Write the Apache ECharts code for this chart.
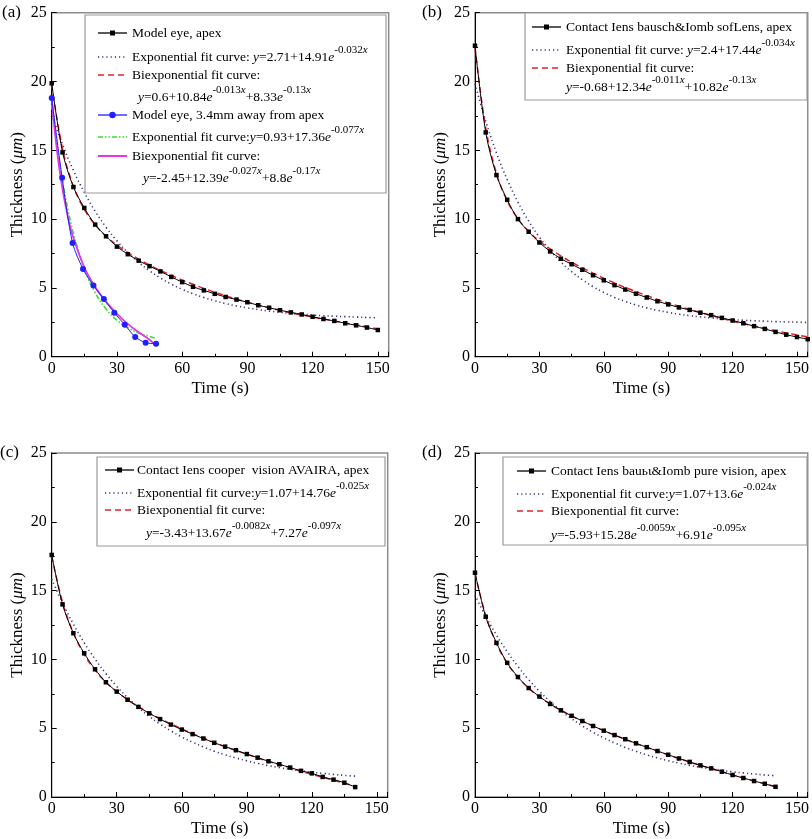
<!DOCTYPE html>
<html><head><meta charset="utf-8">
<script src="https://cdn.jsdelivr.net/npm/echarts@6/dist/echarts.min.js"></script>
<style>html,body{margin:0;padding:0;background:#fff}#c{width:812px;height:839px}</style>
</head><body><div id="c"></div>
<script>
// ---------- DATA ----------
const timeA = [0,5,10,15,20,25,30,35,40,45,50,55,60,65,70,75,80,85,90,95,100,105,110,115,120,125,130,135,140,145,150];
const apexA = [19.87,14.85,12.33,10.81,9.6,8.75,8.0,7.45,6.98,6.58,6.2,5.8,5.42,5.08,4.82,4.57,4.34,4.15,3.96,3.74,3.56,3.38,3.22,3.07,2.9,2.74,2.6,2.43,2.28,2.12,1.94];
const expA = [17.62,15.41,13.54,11.94,10.57,9.41,8.42,7.58,6.86,6.24,5.72,5.27,4.90,4.57,4.30,4.06,3.86,3.69,3.55,3.42,3.32,3.23,3.15,3.09,3.03,2.98,2.94,2.91,2.88,2.85,2.83];
const biexpA = [19.77,15.11,12.39,10.70,9.58,8.76,8.11,7.57,7.09,6.66,6.27,5.91,5.57,5.26,4.96,4.69,4.43,4.19,3.96,3.75,3.55,3.37,3.19,3.03,2.88,2.73,2.60,2.45,2.32,2.18,2.02];

const timeAway = [0,4.8,9.6,14.4,19.2,24,28.8,33.6,38.4,43.2,48];
const awayA = [18.8,13.0,8.27,6.38,5.17,4.2,3.19,2.33,1.44,1.02,0.94];
const fitTimeAway = [0,2.5,5,7.5,10,15,20,25,30,35,40,45,48];
const expAway = [18.29,15.25,12.74,10.67,8.97,6.40,4.65,3.46,2.65,2.10,1.73,1.47,1.34];
const biexpAway = [18.74,14.88,12.14,10.13,8.62,6.50,5.06,3.98,3.12,2.39,1.77,1.23,0.8];

const timeB = [0,5,10,15,20,25,30,35,40,45,50,55,60,65,70,75,80,85,90,95,100,105,110,115,120,125,130,135,140,145,150,155];
const apexB = [22.6,16.3,13.2,11.4,10.0,9.08,8.3,7.65,7.12,6.72,6.32,5.92,5.55,5.2,4.88,4.58,4.3,4.03,3.8,3.58,3.4,3.2,3.02,2.82,2.63,2.43,2.22,2.02,1.8,1.6,1.43,1.27];
const expB = [19.84,17.11,14.81,12.87,11.24,9.85,8.69,7.71,6.88,6.18,5.59,5.09,4.67,4.31,4.01,3.76,3.55,3.37,3.22,3.09,2.98,2.89,2.82,2.75,2.69,2.65,2.61,2.58,2.55,2.53,2.51,2.49];
const biexpB = [22.48,16.65,13.32,11.32,10.03,9.11,8.41,7.83,7.33,6.87,6.46,6.07,5.70,5.36,5.03,4.73,4.44,4.16,3.91,3.66,3.43,3.21,3.00,2.78,2.58,2.40,2.22,2.05,1.88,1.72,1.58,1.44];

const timeC = [0,5,10,15,20,25,30,35,40,45,50,55,60,65,70,75,80,85,90,95,100,105,110,115,120,125,130,135,140];
const apexC = [17.59,14.0,11.9,10.44,9.28,8.34,7.66,7.07,6.55,6.08,5.66,5.26,4.9,4.57,4.25,3.94,3.66,3.4,3.12,2.86,2.6,2.38,2.14,1.9,1.72,1.46,1.26,1.04,0.72];
const expC = [15.83,14.10,12.57,11.21,10.02,8.97,8.04,7.22,6.50,5.86,5.30,4.80,4.36,3.98,3.64,3.33,3.07,2.83,2.63,2.44,2.28,2.14,2.01,1.90,1.80,1.72,1.64,1.57,1.52];
const biexpC = [17.51,14.17,11.92,10.36,9.22,8.35,7.66,7.07,6.57,6.11,5.70,5.31,4.95,4.61,4.28,3.96,3.66,3.38,3.11,2.84,2.59,2.35,2.12,1.87,1.65,1.43,1.22,1.0,0.76];

const timeD = [0,5,10,15,20,25,30,35,40,45,50,55,60,65,70,75,80,85,90,95,100,105,110,115,120,125,130,135,140];
const apexD = [16.3,13.1,11.2,9.75,8.72,7.92,7.3,6.76,6.3,5.9,5.52,5.16,4.82,4.5,4.2,3.9,3.62,3.34,3.07,2.8,2.55,2.3,2.08,1.84,1.6,1.38,1.16,0.96,0.74];
const expD = [14.67,13.13,11.77,10.56,9.49,8.53,7.69,6.94,6.28,5.69,5.17,4.70,4.29,3.93,3.60,3.32,3.06,2.84,2.64,2.46,2.30,2.16,2.04,1.93,1.83,1.75,1.67,1.60,1.54];
const biexpD = [16.26,13.20,11.15,9.72,8.69,7.90,7.27,6.75,6.30,5.89,5.51,5.16,4.82,4.50,4.19,3.89,3.61,3.33,3.06,2.80,2.54,2.30,2.06,1.83,1.60,1.38,1.17,0.96,0.76];

const xTicks = [0,30,60,90,120,150];
const yTicks = [0,5,10,15,20,25];
const panelLetters = ['(a)','(b)','(c)','(d)'];
const xTitle = 'Time (s)';
const yTitle = 'Thickness ({i|μm})';

// ---------- STYLE ----------
const FONT = 'Liberation Serif';
const C = {black:'#000', purple:'#3d2f7a', red:'#e3222a', green:'#33e033', magenta:'#e535e5', blue:'#1f1fff'};
const DOT = [1.2,3], DASH = [6,4], DDOT = [5,2,1.5,2,1.5,2];

const grids = [
  {left:51.7, top:12.7, width:337, height:344},
  {left:475, top:12.7, width:333, height:344},
  {left:51.7, top:453, width:336, height:344},
  {left:475, top:453, width:333, height:344}
];

const xAxes = grids.map((g,i)=>({
  gridIndex:i, type:'value', min:0, max:155, interval:30,
  name:xTitle, nameLocation:'middle', nameGap:23,
  nameTextStyle:{fontFamily:FONT, fontSize:17, color:'#000'},
  axisLine:{show:true, onZero:false, lineStyle:{color:'#000', width:1}},
  axisTick:{show:true, inside:true, length:5, lineStyle:{color:'#000'}},
  minorTick:{show:true, splitNumber:2, length:3, lineStyle:{color:'#000'}},
  axisLabel:{fontFamily:FONT, fontSize:16, color:'#000', margin:4,
    formatter:v=> xTicks.includes(v) ? String(v) : ''},
  splitLine:{show:false}
}));
const yAxes = grids.map((g,i)=>({
  gridIndex:i, type:'value', min:0, max:25, interval:5,
  name:yTitle, nameLocation:'middle', nameGap:26,
  nameTextStyle:{fontFamily:FONT, fontSize:17, color:'#000',
    rich:{i:{fontFamily:FONT, fontSize:17, fontStyle:'italic', color:'#000'}}},
  axisLine:{show:true, onZero:false, lineStyle:{color:'#000', width:1}},
  axisTick:{show:true, inside:true, length:5, lineStyle:{color:'#000'}},
  minorTick:{show:true, splitNumber:2, length:3, lineStyle:{color:'#000'}},
  axisLabel:{fontFamily:FONT, fontSize:16, color:'#000', margin:5,
    formatter:v=> yTicks.includes(v) ? String(v) : ''},
  splitLine:{show:false}
}));

function pairs(xs, ys){ return xs.map((x,k)=>[x, ys[k]]); }
function fit(g, xs, ys, color, dash, width){
  return {type:'line', xAxisIndex:g, yAxisIndex:g, data:pairs(xs,ys), smooth:0.4,
    showSymbol:false, symbol:'none', silent:true,
    lineStyle:{color:color, width:width||1.5, type:dash||'solid'}, z:2};
}
function meas(g, xs, ys, color, symbol){
  return {type:'line', xAxisIndex:g, yAxisIndex:g, data:pairs(xs,ys), smooth:0.3,
    symbol:symbol, symbolSize:symbol==='rect'?4.5:6, silent:true,
    itemStyle:{color:color}, lineStyle:{color:color, width:1}, z:3};
}

const series = [
  fit(0, timeA, expA, C.purple, DOT, 1.6),
  fit(0, timeA, biexpA, C.red, DASH, 1.5),
  meas(0, timeA, apexA, C.black, 'rect'),
  fit(0, fitTimeAway, expAway, C.green, DDOT, 1.6),
  meas(0, timeAway, awayA, C.blue, 'circle'),
  fit(0, fitTimeAway, biexpAway, C.magenta, 'solid', 1.8),

  fit(1, timeB, expB, C.purple, DOT, 1.6),
  fit(1, timeB, biexpB, C.red, DASH, 1.5),
  meas(1, timeB, apexB, C.black, 'rect'),

  fit(2, timeC, expC, C.purple, DOT, 1.6),
  fit(2, timeC, biexpC, C.red, DASH, 1.5),
  meas(2, timeC, apexC, C.black, 'rect'),

  fit(3, timeD, expD, C.purple, DOT, 1.6),
  fit(3, timeD, biexpD, C.red, DASH, 1.5),
  meas(3, timeD, apexD, C.black, 'rect')
];

// ---------- LEGENDS (graphic) ----------
const rich = {
  n:{fontFamily:FONT, fontSize:13.5, color:'#000'},
  i:{fontFamily:FONT, fontSize:13.5, fontStyle:'italic', color:'#000'},
  s:{fontFamily:FONT, fontSize:11, color:'#000', padding:[0,0,14,0]},
  si:{fontFamily:FONT, fontSize:11, fontStyle:'italic', color:'#000', padding:[0,0,14,0]}
};
function legend(box, iconX, textX, rows){
  const els = [{type:'rect', shape:{x:box[0], y:box[1], width:box[2]-box[0], height:box[3]-box[1]},
    style:{fill:'#fff', stroke:'#9a9a9a', lineWidth:1.2}, z:10}];
  rows.forEach(r=>{
    if (r.icon){
      els.push({type:'line', shape:{x1:iconX, y1:r.y, x2:iconX+29, y2:r.y},
        style:{stroke:r.icon.color, lineWidth:r.icon.w||1.4, lineDash:r.icon.dash||null}, z:11});
      if (r.icon.marker==='rect') els.push({type:'rect', shape:{x:iconX+12, y:r.y-2.5, width:5, height:5}, style:{fill:r.icon.color}, z:12});
      if (r.icon.marker==='circle') els.push({type:'circle', shape:{cx:iconX+14.5, cy:r.y, r:3.2}, style:{fill:r.icon.color}, z:12});
    }
    els.push({type:'text', x:(r.x||textX), y:r.y, z:12,
      style:{text:r.t, rich:rich, fontFamily:FONT, fontSize:13.5, fill:'#000', verticalAlign:'middle', align:'left'}});
  });
  return els;
}
const dataIcon = {color:C.black, marker:'rect', w:1.3};
const expIcon = {color:C.purple, dash:DOT, w:1.6};
const biIcon = {color:C.red, dash:DASH, w:1.6};

const legendA = legend([85,15,386,193], 98, 132, [
  {y:33, icon:dataIcon, t:'{n|Model eye, apex}'},
  {y:57, icon:expIcon, t:'{n|Exponential fit curve: }{i|y}{n|=2.71+14.91}{i|e}{s|-0.032}{si|x}'},
  {y:75, icon:biIcon, t:'{n|Biexponential fit curve:}'},
  {y:97, x:138, t:'{i|y}{n|=0.6+10.84}{i|e}{s|-0.013}{si|x}{n|+8.33}{i|e}{s|-0.13}{si|x}'},
  {y:115, icon:{color:C.blue, marker:'circle', w:1.3}, t:'{n|Model eye, 3.4mm away from apex}'},
  {y:137, icon:{color:C.green, dash:DDOT, w:1.6}, t:'{n|Exponential fit curve:}{i|y}{n|=0.93+17.36}{i|e}{s|-0.077}{si|x}'},
  {y:156, icon:{color:C.magenta, w:2}, t:'{n|Biexponential fit curve:}'},
  {y:178, x:143, t:'{i|y}{n|=-2.45+12.39}{i|e}{s|-0.027}{si|x}{n|+8.8}{i|e}{s|-0.17}{si|x}'}
]);
const legendB = legend([525,13,807,100], 532, 566, [
  {y:27, icon:dataIcon, t:'{n|Contact Iens bausch&Iomb sofLens, apex}'},
  {y:50, icon:expIcon, t:'{n|Exponential fit curve: }{i|y}{n|=2.4+17.44}{i|e}{s|-0.034}{si|x}'},
  {y:68, icon:biIcon, t:'{n|Biexponential fit curve:}'},
  {y:87, t:'{i|y}{n|=-0.68+12.34}{i|e}{s|-0.011}{si|x}{n|+10.82}{i|e}{s|-0.13}{si|x}'}
]);
const legendC = legend([97,457,385,546], 105, 137, [
  {y:470, icon:dataIcon, t:'{n|Contact Iens cooper  vision AVAIRA, apex}'},
  {y:493, icon:expIcon, t:'{n|Exponential fit curve:}{i|y}{n|=1.07+14.76}{i|e}{s|-0.025}{si|x}'},
  {y:510, icon:biIcon, t:'{n|Biexponential fit curve:}'},
  {y:533, x:146, t:'{i|y}{n|=-3.43+13.67}{i|e}{s|-0.0082}{si|x}{n|+7.27}{i|e}{s|-0.097}{si|x}'}
]);
const legendD = legend([503,457,807,545], 517, 551, [
  {y:471, icon:dataIcon, t:'{n|Contact Iens bauьι&Iomb pure vision, apex}'},
  {y:494, icon:expIcon, t:'{n|Exponential fit curve:}{i|y}{n|=1.07+13.6}{i|e}{s|-0.024}{si|x}'},
  {y:511, icon:biIcon, t:'{n|Biexponential fit curve:}'},
  {y:535, t:'{i|y}{n|=-5.93+15.28}{i|e}{s|-0.0059}{si|x}{n|+6.91}{i|e}{s|-0.095}{si|x}'}
]);

const letterPos = [[2,13],[422,13],[0,453],[422,453]];
const letters = panelLetters.map((t,i)=>({type:'text', x:letterPos[i][0], y:letterPos[i][1], z:12,
  style:{text:t, fontFamily:FONT, fontSize:17, fill:'#000', verticalAlign:'middle'}}));

const chart = echarts.init(document.getElementById('c'), null, {renderer:'canvas'});
chart.setOption({
  backgroundColor:'#fff',
  animation:false,
  grid: grids.map(g=>Object.assign({show:true, borderColor:'#8c8c8c', borderWidth:1.5, backgroundColor:'transparent'}, g)),
  xAxis: xAxes,
  yAxis: yAxes,
  series: series,
  graphic: [].concat(legendA, legendB, legendC, legendD, letters)
});
</script></body></html>
